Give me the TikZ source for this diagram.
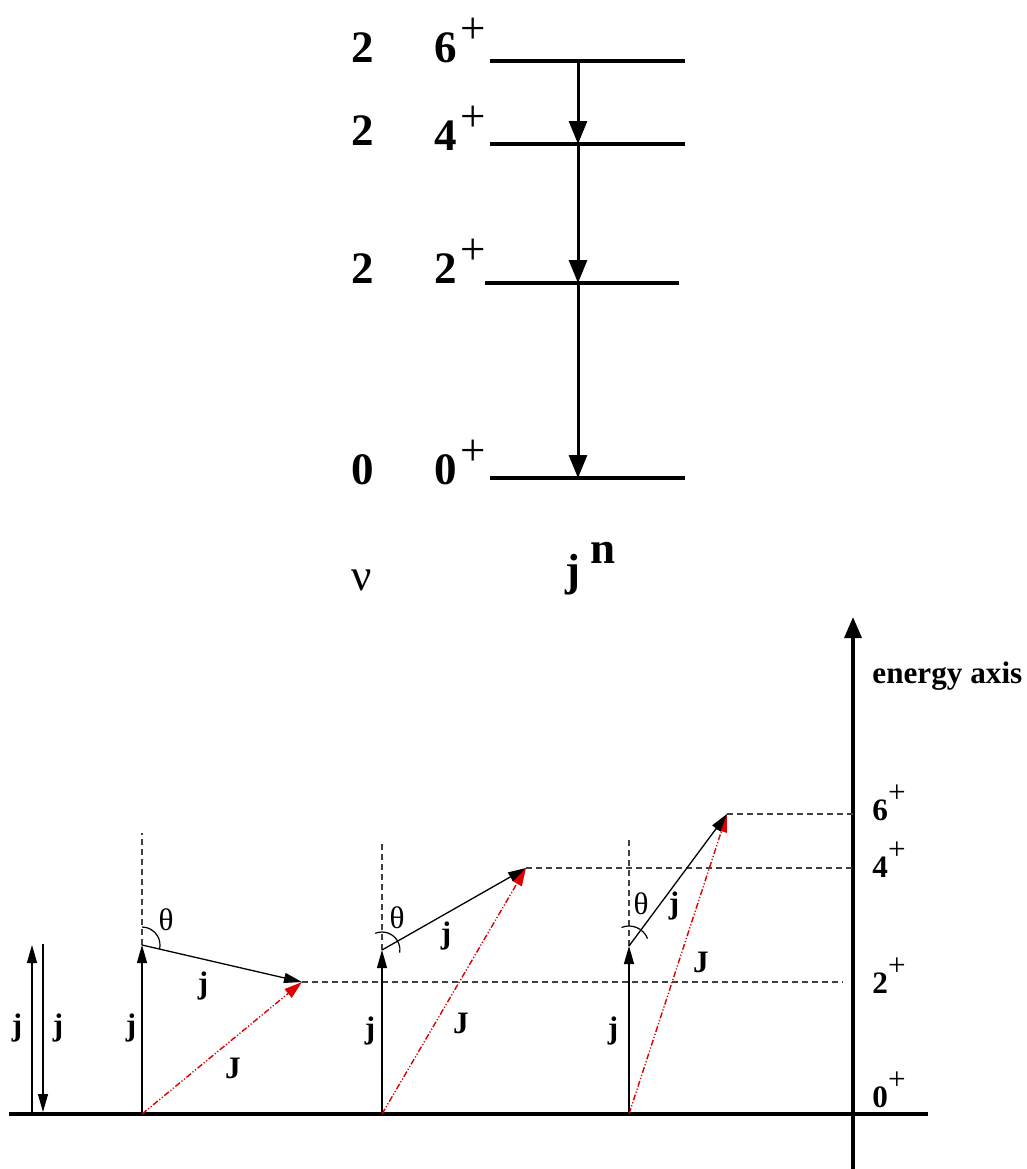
\documentclass[tikz,border=0pt]{standalone}
\usepackage{fontspec}
\setmainfont{Liberation Serif}
\usetikzlibrary{arrows.meta,calc}
\definecolor{jred}{RGB}{220,0,0}
\newcommand{\lev}[1]{\textbf{#1}\kern2pt\raisebox{0.42em}{+}}
\newcommand{\axlev}[1]{\textbf{#1}\raisebox{0.56em}{+}}

\begin{document}
\begin{tikzpicture}[x=0.5pt,y=0.5pt,every node/.style={inner sep=0pt},
  lvl/.style={line width=1.75pt},
  decay/.style={line width=1.5pt,-{Triangle[length=11.5pt,width=9pt]}},
  vec/.style={line width=0.65pt,-{Triangle[length=9pt,width=5pt]}},
  tot/.style={jred,line width=0.7pt,dash pattern=on 3pt off 1pt on 0.6pt off 1pt on 0.6pt off 1pt,-{Triangle[length=9pt,width=5.5pt]}},
  guide/.style={black!75,line width=0.55pt,dash pattern=on 3pt off 2pt},
  big/.style={font=\fontsize{22.5}{25}\selectfont,anchor=base west},
  small/.style={font=\fontsize{15.6}{18}\selectfont}]
  \useasboundingbox (0,0) rectangle (1027,-1169);
  % level scheme
  \coordinate (w6) at (490,-61);  \coordinate (e6) at (685,-61);  \coordinate (c6) at (578,-61);
  \coordinate (w4) at (490,-144); \coordinate (e4) at (685,-144); \coordinate (c4) at (578,-144);
  \coordinate (w2) at (485,-283); \coordinate (e2) at (679,-283); \coordinate (c2) at (578,-283);
  \coordinate (w0) at (490,-478); \coordinate (e0) at (685,-478); \coordinate (c0) at (578,-478);
  \draw[lvl] (w6) -- (e6);
  \draw[lvl] (w4) -- (e4);
  \draw[lvl] (w2) -- (e2);
  \draw[lvl] (w0) -- (e0);
  \draw[decay] (c6) -- (c4);
  \draw[decay] (c4) -- (c2);
  \draw[decay] (c2) -- (c0);
  \node[big] (v6) at (351,-62) {\textbf{2}};
  \node[big] (v4) at (351,-145) {\textbf{2}};
  \node[big] (v2) at (351,-283) {\textbf{2}};
  \node[big] (v0) at (351,-484) {\textbf{0}};
  \node[big] (s6) at (434,-62) {\lev{6}};
  \node[big] (s4) at (434,-150) {\lev{4}};
  \node[big] (s2) at (434,-283) {\lev{2}};
  \node[big] (s0) at (434,-484) {\lev{0}};
  \node[big] (nu) at (351,-590) {ν};
  \node[big] (jn) at (565,-585) {\textbf{j}\kern5pt\raisebox{0.47em}{\textbf{n}}};
  % vector coupling
  \coordinate (gl) at (9,-1114);   \coordinate (gr) at (928,-1114);
  \coordinate (axb) at (853,-1169); \coordinate (axt) at (853,-617);
  \draw[line width=2pt] (gl) -- (gr);
  \draw[line width=1.75pt,-{Triangle[length=10.5pt,width=8.5pt]}] (axb) -- (axt);
  \node[small,anchor=base west] (eax) at (872,-683) {\textbf{energy axis}};
  \node[small,anchor=base west] (a6) at (872,-820) {\axlev{6}};
  \node[small,anchor=base west] (a4) at (872,-877) {\axlev{4}};
  \node[small,anchor=base west] (a2) at (872,-993) {\axlev{2}};
  \node[small,anchor=base west] (a0) at (872,-1107) {\axlev{0}};
  \coordinate (up0) at (32,-1112); \coordinate (up1) at (32,-945);
  \coordinate (dn0) at (43,-944);  \coordinate (dn1) at (43,-1112);
  \draw[vec] (up0) -- (up1);
  \draw[vec] (dn0) -- (dn1);
  \node[small] (ju) at (17,-1028) {\textbf{j}};
  \node[small] (jd) at (58,-1028) {\textbf{j}};
  \coordinate (b1) at (142,-1114); \coordinate (m1) at (142,-945); \coordinate (t1) at (302,-982); \coordinate (d1) at (142,-833);
  \coordinate (b2) at (382,-1114); \coordinate (m2) at (382,-950); \coordinate (t2) at (526,-868); \coordinate (d2) at (382,-842);
  \coordinate (b3) at (629,-1114); \coordinate (m3) at (629,-946); \coordinate (t3) at (727,-814); \coordinate (d3) at (629,-837);
  \coordinate (h2) at (843,-982); \coordinate (h4) at (853,-868); \coordinate (h6) at (853,-814);
  \draw[guide] (t1) -- (h2);
  \draw[guide] (t2) -- (h4);
  \draw[guide] (t3) -- (h6);
  \draw[guide] (m1) -- (d1);
  \draw[guide] (m2) -- (d2);
  \draw[guide] (m3) -- (d3);
  \draw[vec] (b1) -- (m1);
  \draw[vec] (b2) -- (m2);
  \draw[vec] (b3) -- (m3);
  \draw[tot] (b1) -- (t1);
  \draw[tot] (b2) -- (t2);
  \draw[tot] (b3) -- (t3);
  \draw[vec] (m1) -- (t1);
  \draw[vec] (m2) -- (t2);
  \draw[vec] (m3) -- (t3);
  \draw[line width=0.6pt] (m1) ++(90:9pt) arc[start angle=90,end angle=-13,radius=9pt];
  \draw[line width=0.6pt] (m2) ++(112:9pt) arc[start angle=112,end angle=-8,radius=9pt];
  \draw[line width=0.6pt] (m3) ++(112:10pt) arc[start angle=112,end angle=22,radius=10pt];
  \node[small] (q1) at (166,-920) {θ};
  \node[small] (q2) at (397,-918) {θ};
  \node[small] (q3) at (641,-904) {θ};
  \node[small] (jv1) at (131,-1028) {\textbf{j}};
  \node[small] (jv2) at (370,-1031) {\textbf{j}};
  \node[small] (jv3) at (613,-1031) {\textbf{j}};
  \node[small] (js1) at (203,-986) {\textbf{j}};
  \node[small] (js2) at (446,-936) {\textbf{j}};
  \node[small] (js3) at (674,-906) {\textbf{j}};
  \node[small] (J1) at (233,-1068) {\textbf{J}};
  \node[small] (J2) at (461,-1023) {\textbf{J}};
  \node[small] (J3) at (701,-962) {\textbf{J}};
\end{tikzpicture}
\end{document}
